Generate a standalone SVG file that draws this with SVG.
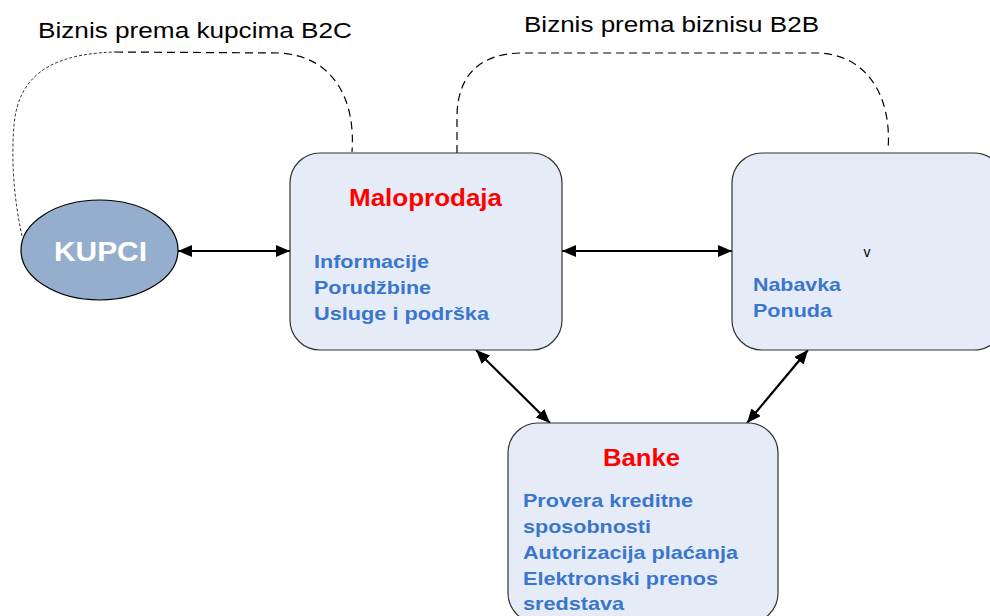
<svg xmlns="http://www.w3.org/2000/svg" width="990" height="616" viewBox="0 0 990 616">
  <defs>
    <marker id="arrow" viewBox="0 0 14 12" refX="14" refY="6" markerWidth="14" markerHeight="12" markerUnits="userSpaceOnUse" orient="auto-start-reverse">
      <path d="M0,0 L14,6 L0,12 Z" fill="#000"/>
    </marker>
    <style>
      .box { fill: #E6ECF7; stroke: #333; stroke-width: 1.2; }
      .title { font-family: "Liberation Sans", Arial, sans-serif; font-weight: bold; font-size: 23px; fill: #FF0000; text-anchor: middle; }
      .item { font-family: "Liberation Sans", Arial, sans-serif; font-weight: bold; font-size: 19px; fill: #3A76CC; }
      .label { font-family: "Liberation Sans", Arial, sans-serif; font-size: 22px; fill: #000; }
      .link { fill: none; stroke: #000; stroke-width: 2.2; }
      .dash { fill: none; stroke: #000; stroke-width: 1.2; stroke-dasharray: 8 5; }
      .dash-fine { fill: none; stroke: #000; stroke-width: 0.8; stroke-dasharray: 3 2; }
    </style>
  </defs>

  <!-- heading labels -->
  <text class="label" x="38" y="38" textLength="314" lengthAdjust="spacingAndGlyphs">Biznis prema kupcima B2C</text>
  <text class="label" x="524" y="32" textLength="295" lengthAdjust="spacingAndGlyphs">Biznis prema biznisu B2B</text>

  <!-- connectors -->
  <g id="connectors">
    <!-- B2C loop -->
    <path class="dash-fine" d="M22,236 C14,200 11,160 14,125 C18,80 45,54 115,52"/>
    <path class="dash" d="M115,52 L280,53 C330,56 356,95 352,152"/>
    <!-- B2B loop -->
    <path class="dash" d="M457,153 L457,115 C458,75 480,54 520,53 L820,53 C870,56 892,100 888,150"/>
    <!-- double-headed links -->
    <line class="link" x1="178" y1="251" x2="290" y2="251" marker-start="url(#arrow)" marker-end="url(#arrow)"/>
    <line class="link" x1="562" y1="251" x2="732" y2="251" marker-start="url(#arrow)" marker-end="url(#arrow)"/>
    <line class="link" x1="476" y1="350" x2="550" y2="423" marker-start="url(#arrow)" marker-end="url(#arrow)"/>
    <line class="link" x1="808" y1="350" x2="747" y2="423" marker-start="url(#arrow)" marker-end="url(#arrow)"/>
  </g>

  <!-- customers -->
  <g id="kupci">
    <ellipse cx="99.5" cy="250" rx="78.5" ry="50" fill="#95AECE" stroke="#000" stroke-width="1.2"/>
    <text x="54" y="261" textLength="93" lengthAdjust="spacingAndGlyphs" font-family="'Liberation Sans', Arial, sans-serif" font-weight="bold" font-size="27" fill="#FFFFFF">KUPCI</text>
  </g>

  <!-- retail -->
  <g id="maloprodaja">
    <rect class="box" x="290" y="153" width="272" height="197" rx="30" ry="30"/>
    <text class="title" x="425.5" y="206" textLength="153" lengthAdjust="spacingAndGlyphs">Maloprodaja</text>
    <text class="item" x="314" y="268" textLength="115" lengthAdjust="spacingAndGlyphs">Informacije</text>
    <text class="item" x="314" y="294" textLength="117" lengthAdjust="spacingAndGlyphs">Porudžbine</text>
    <text class="item" x="314" y="320" textLength="175" lengthAdjust="spacingAndGlyphs">Usluge i podrška</text>
  </g>

  <!-- suppliers -->
  <g id="dobavljaci">
    <rect class="box" x="732" y="153" width="272" height="197" rx="30" ry="30"/>
    <text x="867" y="257" font-family="'Liberation Sans', Arial, sans-serif" font-size="14" fill="#000" text-anchor="middle">v</text>
    <text class="item" x="753" y="291" textLength="88" lengthAdjust="spacingAndGlyphs">Nabavka</text>
    <text class="item" x="753" y="317" textLength="79" lengthAdjust="spacingAndGlyphs">Ponuda</text>
  </g>

  <!-- banks -->
  <g id="banke">
    <rect class="box" x="508" y="423" width="270" height="200" rx="30" ry="30"/>
    <text class="title" x="641.5" y="466" textLength="77" lengthAdjust="spacingAndGlyphs">Banke</text>
    <text class="item" x="523" y="507" textLength="170" lengthAdjust="spacingAndGlyphs">Provera kreditne</text>
    <text class="item" x="523" y="533" textLength="128" lengthAdjust="spacingAndGlyphs">sposobnosti</text>
    <text class="item" x="523" y="559" textLength="215" lengthAdjust="spacingAndGlyphs">Autorizacija plaćanja</text>
    <text class="item" x="523" y="585" textLength="195" lengthAdjust="spacingAndGlyphs">Elektronski prenos</text>
    <text class="item" x="523" y="610" textLength="101" lengthAdjust="spacingAndGlyphs">sredstava</text>
  </g>
</svg>
